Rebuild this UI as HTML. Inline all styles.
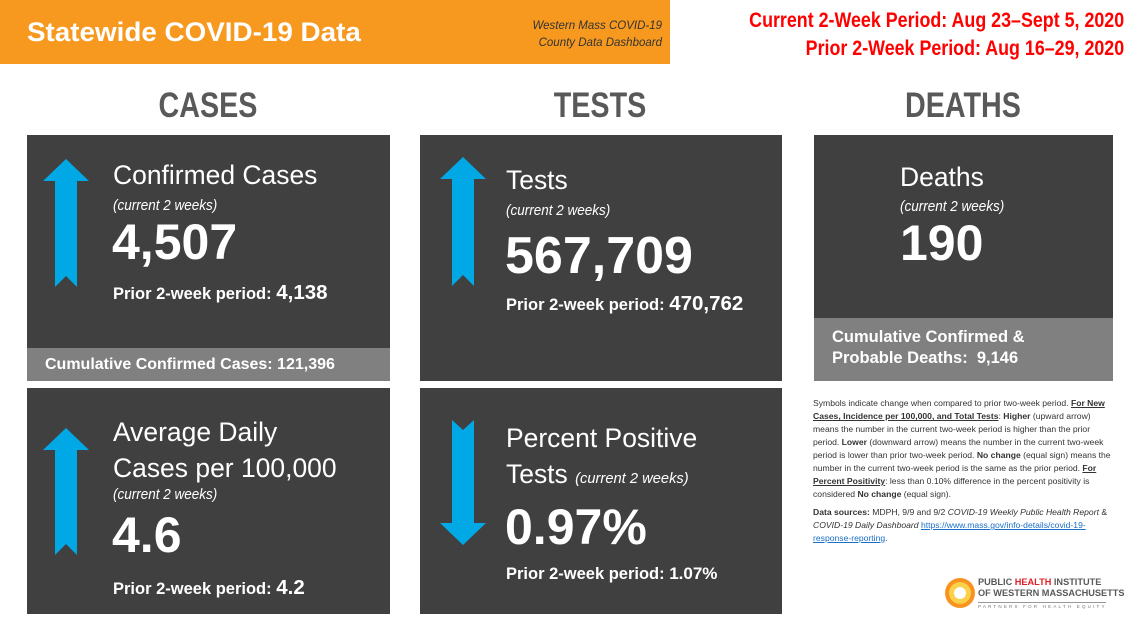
<!DOCTYPE html><html><head><style>
body{margin:0;width:1140px;height:641px;background:#fff;position:relative;overflow:hidden;font-family:"Liberation Sans",sans-serif}
.a{position:absolute;white-space:nowrap}
.card{position:absolute;background:#404040}
.w{color:#fff}
.h{color:#595959;font-weight:bold;font-size:35px;transform:scaleX(.82);transform-origin:center}
.t{font-size:27px;color:#fff;transform:scaleX(.98);transform-origin:left}
.i{font-size:15px;font-style:italic;color:#fff;transform:scaleX(.9);transform-origin:left}
.n{font-size:50px;font-weight:bold;color:#fff}
.p{font-size:16.5px;font-weight:bold;color:#fff}
.p b{font-size:20.5px}
</style></head><body>
<div class="a" style="left:0;top:0;width:670px;height:64px;background:#f7991f"></div>
<div class="a w" style="left:27px;top:17px;font-size:27px;font-weight:bold;transform:scaleX(1.03);transform-origin:left">Statewide COVID-19 Data</div>
<div class="a" style="left:480px;top:18px;width:182px;text-align:right;font-size:11.5px;font-style:italic;color:#333;line-height:17px">Western Mass COVID-19<br>County Data Dashboard</div>
<div class="a" style="right:16px;top:7px;text-align:right;color:#f00;font-weight:bold;font-size:21px;line-height:28px;transform:scaleX(.85);transform-origin:right">Current 2-Week Period: Aug 23–Sept 5, 2020<br>Prior 2-Week Period: Aug 16–29, 2020</div>
<div class="a h" style="left:108px;width:200px;text-align:center;top:86px">CASES</div>
<div class="a h" style="left:500px;width:200px;text-align:center;top:86px">TESTS</div>
<div class="a h" style="left:863px;width:200px;text-align:center;top:86px">DEATHS</div>

<div class="card" style="left:27px;top:135px;width:363px;height:246px"></div>
<div class="a" style="left:27px;top:348px;width:363px;height:33px;background:#808080"></div>
<div class="a t" style="left:113px;top:160px">Confirmed Cases</div>
<div class="a i" style="left:113px;top:197px">(current 2 weeks)</div>
<div class="a n" style="left:112px;top:213px">4,507</div>
<div class="a p" style="left:113px;top:281px">Prior 2-week period: <b>4,138</b></div>
<div class="a p" style="left:45px;top:356px;font-size:16px">Cumulative Confirmed Cases: 121,396</div>

<div class="card" style="left:27px;top:388px;width:363px;height:226px"></div>
<div class="a t" style="left:113px;top:414px;line-height:36px">Average Daily<br>Cases per 100,000</div>
<div class="a i" style="left:113px;top:486px">(current 2 weeks)</div>
<div class="a n" style="left:112px;top:506px">4.6</div>
<div class="a p" style="left:113px;top:576px">Prior 2-week period: <b>4.2</b></div>

<div class="card" style="left:420px;top:135px;width:362px;height:246px"></div>
<div class="a t" style="left:506px;top:165px">Tests</div>
<div class="a i" style="left:506px;top:202px">(current 2 weeks)</div>
<div class="a n" style="left:505px;top:226px;font-size:52px">567,709</div>
<div class="a p" style="left:506px;top:292px">Prior 2-week period: <b>470,762</b></div>

<div class="card" style="left:420px;top:388px;width:362px;height:226px"></div>
<div class="a t" style="left:506px;top:420px;line-height:36px">Percent Positive<br>Tests <span style="font-size:15px;font-style:italic">(current 2 weeks)</span></div>
<div class="a n" style="left:505px;top:498px">0.97%</div>
<div class="a p" style="left:506px;top:564px">Prior 2-week period: <b style="font-size:17px">1.07%</b></div>

<div class="card" style="left:814px;top:135px;width:299px;height:246px"></div>
<div class="a" style="left:814px;top:318px;width:299px;height:63px;background:#808080"></div>
<div class="a t" style="left:900px;top:162px">Deaths</div>
<div class="a i" style="left:900px;top:198px">(current 2 weeks)</div>
<div class="a n" style="left:900px;top:214px">190</div>
<div class="a p" style="left:832px;top:327px;line-height:21px">Cumulative Confirmed &amp;<br>Probable Deaths: &nbsp;9,146</div>

<svg class="a" style="left:0;top:0" width="1140" height="641">
<g fill="#00a9e6">
<polygon points="66,159 89,181 77,181 77,287 66,276 55,287 55,181 43,181"/>
<polygon points="66,428 89,450 77,450 77,555 66,544 55,555 55,450 43,450"/>
<polygon points="463,157 486,179 474,179 474,286 463,275 452,286 452,179 440,179"/>
<polygon points="463,545 486,523 474,523 474,420 463,430 452,420 452,523 440,523"/>
</g></svg>

<div class="a" style="left:813px;top:397px;width:303px;white-space:normal;font-size:8.6px;line-height:13px;color:#333">Symbols indicate change when compared to prior two-week period. <b><u>For New Cases, Incidence per 100,000, and Total Tests</u></b>: <b>Higher</b> (upward arrow) means the number in the current two-week period is higher than the prior period. <b>Lower</b> (downward arrow) means the number in the current two-week period is lower than prior two-week period. <b>No change</b> (equal sign) means the number in the current two-week period is the same as the prior period. <b><u>For Percent Positivity</u></b>: less than 0.10% difference in the percent positivity is considered <b>No change</b> (equal sign).
<div style="margin-top:5px"><b>Data sources:</b> MDPH, 9/9 and 9/2 <i>COVID-19 Weekly Public Health Report</i> &amp; <i>COVID-19 Daily Dashboard</i> <span style="color:#1a6fc9;text-decoration:underline">https://www.mass.gov/info-details/covid-19-response-reporting</span>.</div></div>
<svg class="a" style="left:943px;top:576px" width="34" height="34"><circle cx="17" cy="17" r="15" fill="#f7931e"/><circle cx="17" cy="17" r="11" fill="#fbd04a"/><circle cx="17" cy="17" r="6" fill="#fff"/></svg>
<div class="a" style="left:978px;top:577px;font-size:9.2px;font-weight:bold;color:#595959;line-height:11px">PUBLIC <span style="color:#e31e24">HEALTH</span> INSTITUTE<br>OF WESTERN MASSACHUSETTS</div>
<div class="a" style="left:978px;top:602px;width:128px;border-top:1px solid #999;font-size:4.5px;letter-spacing:2.2px;color:#777;padding-top:1px">PARTNERS FOR HEALTH EQUITY</div>
</body></html>
